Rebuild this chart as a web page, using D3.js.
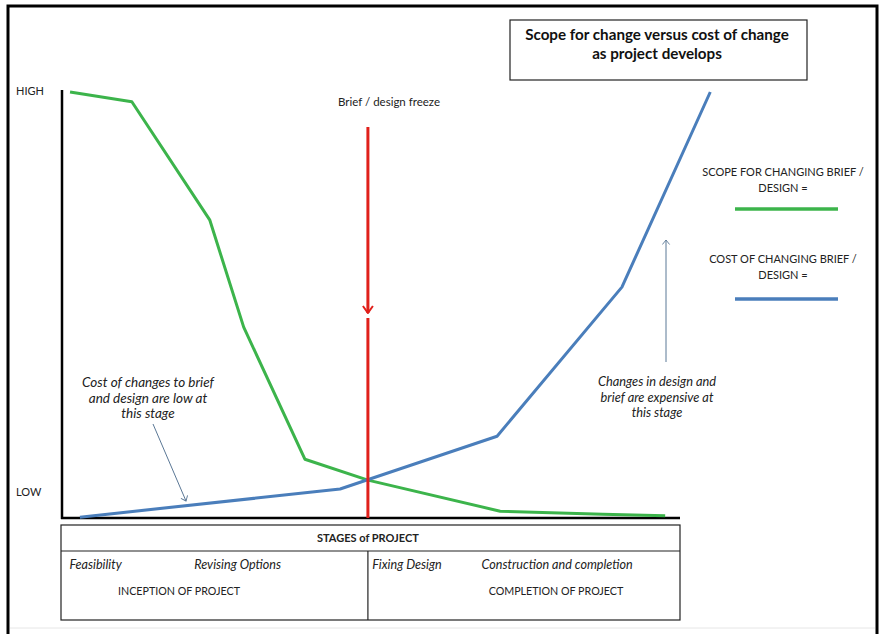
<!DOCTYPE html>
<html>
<head>
<meta charset="utf-8">
<script src="https://cdn.jsdelivr.net/npm/d3@7"></script>
<style>
  body { margin: 0; background: #fff; }
  svg { display: block; font-family: Lato, "Open Sans", sans-serif; }
</style>
</head>
<body>
<div id="chart"></div>
<script>
// progress through project (0-100) vs level (0 = LOW, 100 = HIGH)
const scopeX = [1.3, 11.3, 23.9, 29.4, 39.3, 49.5, 70.9, 87.5, 97.6];
const scopeY = [100, 97.7, 70, 44.8, 13.8, 8.9, 1.6, 0.9, 0.5];
const costX = [2.9, 45, 70.4, 90.6, 104.9];
const costY = [0.2, 6.8, 19.2, 54.2, 100];
const freezeX = 49.5;
const levelLabels = ["LOW", "HIGH"];
const legendLabels = [["SCOPE FOR CHANGING BRIEF /", "DESIGN ="], ["COST OF CHANGING BRIEF /", "DESIGN ="]];
const stageItems = ["Feasibility", "Revising Options", "Fixing Design", "Construction and completion"];
const stageItemX = [1.2, 21.4, 50.2, 67.9];
const phases = ["INCEPTION OF PROJECT", "COMPLETION OF PROJECT"];

const width = 879;
const height = 634;
const margin = { top: 92, right: 199, bottom: 116, left: 62 };
const green = "#3cb44b";
const blue = "#4a7ebb";
const red = "#e0201b";

const svg = d3.select("#chart").append("svg").attr("width", width).attr("height", height);

const x = d3.scaleLinear().domain([0, 100]).range([margin.left, width - margin.right]);
const y = d3.scaleLinear().domain([0, 100]).range([height - margin.bottom, margin.top]);

// markers (drawn pointing along +x, oriented by the line)
const defs = svg.append("defs");
defs.append("marker").attr("id", "redHead").attr("viewBox", "0 0 12 12")
  .attr("refX", 11).attr("refY", 6).attr("markerWidth", 12).attr("markerHeight", 12)
  .attr("markerUnits", "userSpaceOnUse").attr("orient", "auto")
  .append("path").attr("d", "M4,1 L11,6 L4,11").attr("fill", "none").attr("stroke", red).attr("stroke-width", 2);
defs.append("marker").attr("id", "thinHead").attr("viewBox", "0 0 10 10")
  .attr("refX", 9).attr("refY", 5).attr("markerWidth", 9).attr("markerHeight", 9)
  .attr("markerUnits", "userSpaceOnUse").attr("orient", "auto")
  .append("path").attr("d", "M4,1 L9,5 L4,9").attr("fill", "none").attr("stroke", "#5b7896").attr("stroke-width", 1);

// outer frame
svg.append("path")
  .attr("d", `M8,${height} V6 H877 V${height}`)
  .attr("fill", "none").attr("stroke", "#000").attr("stroke-width", 3);
svg.append("line").attr("x1", 10).attr("x2", 875).attr("y1", 628).attr("y2", 628)
  .attr("stroke", "#e6e6e6").attr("stroke-width", 1);

// title box
svg.append("rect").attr("x", 510).attr("y", 20).attr("width", 297).attr("height", 60)
  .attr("fill", "#fff").attr("stroke", "#222").attr("stroke-width", 1.2);
svg.append("text").attr("x", 658).attr("y", 40).attr("text-anchor", "middle")
  .attr("font-weight", "bold").attr("font-size", 15.2).attr("fill", "#111")
  .selectAll("tspan").data(["Scope for change versus cost of change", "as project develops"]).join("tspan")
  .attr("x", 657).attr("dy", (d, i) => i ? 19 : 0).text((d) => d);

// axes
svg.append("line").attr("x1", x(0)).attr("x2", x(0)).attr("y1", y(100) - 2).attr("y2", y(0) + 1)
  .attr("stroke", "#000").attr("stroke-width", 2.5);
svg.append("line").attr("x1", x(0) - 1).attr("x2", x(100)).attr("y1", y(0)).attr("y2", y(0))
  .attr("stroke", "#000").attr("stroke-width", 2.5);
svg.selectAll(".level").data(levelLabels).join("text")
  .attr("x", 16).attr("y", (d, i) => (i ? y(100) : y(0) - 25) + 3)
  .attr("font-size", 11).attr("fill", "#222").text((d) => d);

// lines
const line = d3.line().x((d) => x(d[0])).y((d) => y(d[1]));
svg.append("path").datum(d3.zip(scopeX, scopeY)).attr("d", line)
  .attr("fill", "none").attr("stroke", green).attr("stroke-width", 3).attr("stroke-linejoin", "round");
svg.append("path").datum(d3.zip(costX, costY)).attr("d", line)
  .attr("fill", "none").attr("stroke", blue).attr("stroke-width", 3).attr("stroke-linejoin", "round");

// freeze marker
svg.append("line").attr("x1", x(freezeX)).attr("x2", x(freezeX)).attr("y1", 127).attr("y2", 313)
  .attr("stroke", red).attr("stroke-width", 3).attr("marker-end", "url(#redHead)");
svg.append("line").attr("x1", x(freezeX)).attr("x2", x(freezeX)).attr("y1", 318).attr("y2", y(0))
  .attr("stroke", red).attr("stroke-width", 3);
svg.append("text").attr("x", 389).attr("y", 106).attr("text-anchor", "middle")
  .attr("font-size", 11.5).attr("fill", "#222").text("Brief / design freeze");

// legend
const legend = svg.selectAll(".legend").data(legendLabels).join("g")
  .attr("transform", (d, i) => `translate(0,${i * 87})`);
legend.append("text").attr("font-size", 11).attr("fill", "#222").attr("text-anchor", "middle")
  .selectAll("tspan").data((d) => d).join("tspan")
  .attr("x", 783).attr("y", (d, i) => 176 + i * 16).text((d) => d);
legend.append("line").attr("x1", 735).attr("x2", 838).attr("y1", 209).attr("y2", 209)
  .attr("stroke", (d, i) => (i ? blue : green)).attr("stroke-width", 3.5);
legend.filter((d, i) => i === 1).select("line").attr("y1", 212).attr("y2", 212);

// annotations
const note = (lines, cx, cy, fs) =>
  svg.append("text").attr("font-size", fs).attr("font-style", "italic").attr("fill", "#222")
    .attr("text-anchor", "middle")
    .selectAll("tspan").data(lines).join("tspan")
    .attr("x", cx).attr("y", (d, i) => cy + i * 15.5).text((d) => d);
note(["Cost of changes to brief", "and design are low at", "this stage"], 148, 387, 13.5);
note(["Changes in design and", "brief are expensive at", "this stage"], 657, 386, 12.8);
svg.append("line").attr("x1", 153).attr("y1", 424).attr("x2", 186).attr("y2", 501)
  .attr("stroke", "#5b7896").attr("stroke-width", 1).attr("marker-end", "url(#thinHead)");
svg.append("line").attr("x1", 666).attr("y1", 362).attr("x2", 666).attr("y2", 240)
  .attr("stroke", "#5b7896").attr("stroke-width", 1).attr("marker-end", "url(#thinHead)");

// stages table
const tTop = 525, tRow = 551, tBot = 620;
const tbl = svg.append("g").attr("fill", "none").attr("stroke", "#222").attr("stroke-width", 1.2);
tbl.append("rect").attr("x", x(0) - 1).attr("y", tTop).attr("width", x(100) - x(0) + 1).attr("height", tBot - tTop);
tbl.append("line").attr("x1", x(0) - 1).attr("x2", x(100)).attr("y1", tRow).attr("y2", tRow);
tbl.append("line").attr("x1", x(freezeX)).attr("x2", x(freezeX)).attr("y1", tRow).attr("y2", tBot);
svg.append("text").attr("x", x(freezeX)).attr("y", 542).attr("text-anchor", "middle")
  .attr("font-weight", "bold").attr("font-size", 11).attr("fill", "#222").text("STAGES of PROJECT");
svg.selectAll(".stage").data(stageItems).join("text")
  .attr("x", (d, i) => x(stageItemX[i])).attr("y", 569)
  .attr("font-size", 12.6).attr("font-style", "italic").attr("fill", "#222").text((d) => d);
svg.selectAll(".phase").data(phases).join("text")
  .attr("x", (d, i) => (i ? 556 : 179)).attr("y", 595).attr("text-anchor", "middle")
  .attr("font-size", 10.7).attr("fill", "#222").text((d) => d);
</script>
</body>
</html>
